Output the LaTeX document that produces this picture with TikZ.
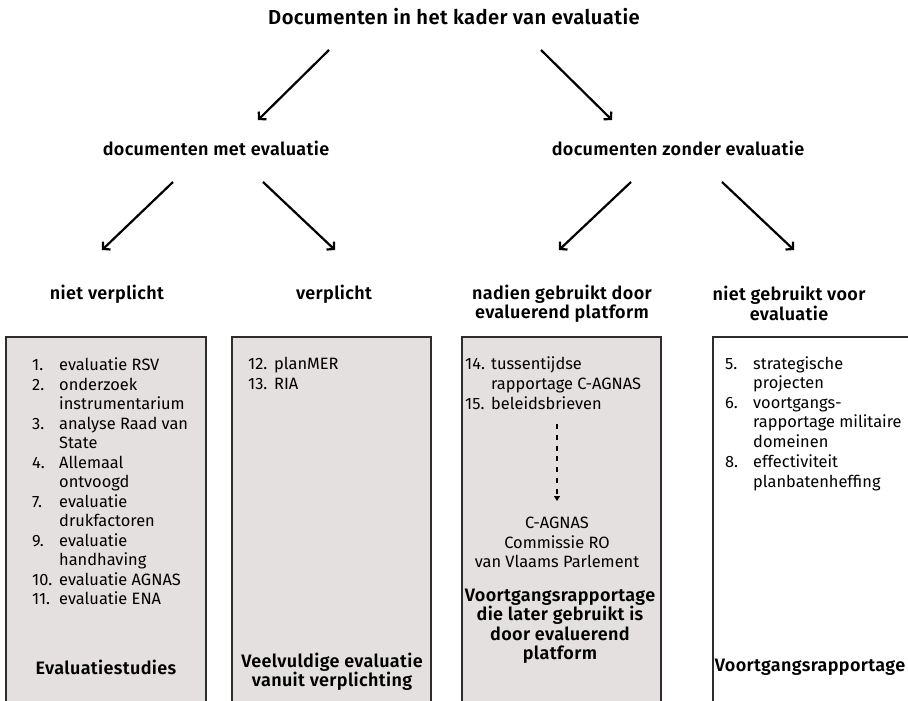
\documentclass[tikz,border=0pt]{standalone}
\usepackage{fontspec}
\setmainfont{Fira Sans}[BoldFont={Fira Sans SemiBold}, BoldFeatures={LetterSpace=2}]
\usetikzlibrary{arrows.meta}
\definecolor{panelfill}{RGB}{227,224,223}
\definecolor{panelline}{RGB}{45,45,45}
\begin{document}
\begin{tikzpicture}[x=1pt,y=-1pt,
  body/.style={font=\fontsize{16.4}{19.5}\selectfont, inner sep=0pt, anchor=mid west},
  bodyc/.style={font=\fontsize{16.4}{19.5}\selectfont, inner sep=0pt, align=center},
  lbl/.style={font=\fontsize{18}{19.2}\selectfont\bfseries, inner sep=0pt, align=center},
  panel/.style={draw=panelline, line width=1.2pt, fill=panelfill},
  branch/.style={line width=2.2pt, -{Straight Barb[length=5pt,width=11pt]}},
  later/.style={line width=2pt, dash pattern=on 5pt off 5.8pt, -{Triangle[length=5pt,width=6pt]}}]
\useasboundingbox (0,0) rectangle (908,701);
\clip (0,0) rectangle (908,701);

% headings of the tree
\node[lbl, font=\fontsize{20.2}{20.5}\selectfont\bfseries] (root) at (454,17) {Documenten in het kader van evaluatie};
\node[lbl] (met) at (216,148) {documenten met evaluatie};
\node[lbl] (zonder) at (678,148) {documenten zonder evaluatie};
\node[lbl] (nietverpl) at (107,294) {niet verplicht};
\node[lbl] (verpl) at (334,294) {verplicht};
\node[lbl] (nadien) at (562,303.5) {nadien gebruikt door\\evaluerend platform};
\node[lbl] (nietgebr) at (789,303.5) {niet gebruikt voor\\evaluatie};

% arrow end points
\coordinate (a1s) at (329,50);  \coordinate (a1e) at (258,120);
\coordinate (a2s) at (541,50);  \coordinate (a2e) at (612,120);
\coordinate (b1s) at (173,182); \coordinate (b1e) at (102,250);
\coordinate (b2s) at (263,182); \coordinate (b2e) at (335,250);
\coordinate (b3s) at (631,182); \coordinate (b3e) at (559,250);
\coordinate (b4s) at (722,182); \coordinate (b4e) at (794,250);
\foreach \s/\e in {a1s/a1e,a2s/a2e,b1s/b1e,b2s/b2e,b3s/b3e,b4s/b4e}
  \draw[branch] (\s) -- (\e);

% four panels
\draw[panel] (6,337) rectangle (206,720);
\draw[panel] (232,337) rectangle (431,720);
\draw[panel] (462,337) rectangle (661,720);
\draw[panel, fill=white] (713,337) rectangle (930,720);

% panel 1: evaluation studies
\foreach \y/\n in {368/1., 387.5/2., 426.5/3., 465.5/4., 504.5/7., 543.5/9., 582.5/10., 602/11.}
  \node[body] (p1n\n) at (32,\y) {\n};
\foreach \y/\t [count=\i] in {368/evaluatie RSV, 387.5/onderzoek, 407/instrumentarium,
  426.5/analyse Raad van, 446/State, 465.5/Allemaal, 485/ontvoogd, 504.5/evaluatie,
  524/drukfactoren, 543.5/evaluatie, 563/handhaving, 582.5/evaluatie AGNAS, 602/evaluatie ENA}
  \node[body] (p1t\i) at (59,\y) {\t};
\node[lbl] (p1lbl) at (106,667) {Evaluatiestudies};

% panel 2: mandatory evaluation
\node[body] (p2n1) at (248,367) {12.};
\node[body] (p2n2) at (248,386.5) {13.};
\node[body] (p2t1) at (274,367) {planMER};
\node[body] (p2t2) at (274,386.5) {RIA};
\node[lbl] (p2lbl) at (332,672) {Veelvuldige evaluatie\\vanuit verplichting};

% panel 3: later used by an evaluating platform
\node[body] (p3n1) at (465,367) {14.};
\node[body] (p3n2) at (465,406.5) {15.};
\node[body] (p3t1) at (491,367) {tussentijdse};
\node[body] (p3t2) at (491,386.5) {rapportage C-AGNAS};
\node[body] (p3t3) at (491,406.5) {beleidsbrieven};
\node[bodyc] (p3plat) at (557,542.5) {C-AGNAS\\Commissie RO\\van Vlaams Parlement};
\coordinate (p3from) at (557,424);
\coordinate (p3to) at (557,501);
\draw[later] (p3from) -- (p3to);
\node[lbl, font=\fontsize{18}{19.5}\selectfont\bfseries] (p3lbl) at (560,626)
  {Voortgangsrapportage\\die later gebruikt is\\door evaluerend\\platform};

% panel 4: progress reporting
\node[body] (p4n1) at (725,367) {5.};
\node[body] (p4n2) at (725,405.5) {6.};
\node[body] (p4n3) at (725,465) {8.};
\foreach \y/\t [count=\i] in {367/strategische, 386/projecten, 405.5/voortgangs-,
  425/rapportage militaire, 445/domeinen, 465/effectiviteit, 485/planbatenheffing}
  \node[body] (p4t\i) at (753,\y) {\t};
\node[lbl] (p4lbl) at (810,667) {Voortgangsrapportage};
\end{tikzpicture}
\end{document}
